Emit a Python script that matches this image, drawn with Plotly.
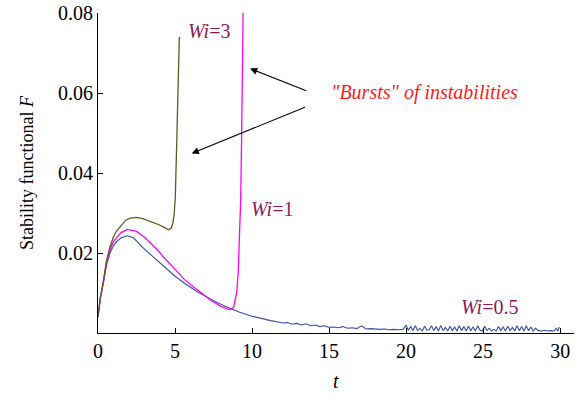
import plotly.graph_objects as go

# ---- data ----
t_blue_head = [0, 0.15, 0.35, 0.55, 0.78, 1.0, 1.2, 1.5, 1.9, 2.3, 2.95, 3.8, 4.4, 5.0, 5.7, 6.5, 7.3, 8.0, 8.57, 9.2, 10.0, 10.6, 11.2, 11.8]
F_blue_head = [0.004, 0.0085, 0.0125, 0.0170, 0.0200, 0.0218, 0.0228, 0.0238, 0.0243, 0.0238, 0.0212, 0.0183, 0.0162, 0.0142, 0.0122, 0.0102, 0.0085, 0.0071, 0.0062, 0.0052, 0.0042, 0.0036, 0.0031, 0.0027]

t_blue_tail = [12.0, 12.3, 12.6, 12.9, 13.2, 13.5, 13.8, 14.1, 14.4, 14.7, 15.0, 15.3, 15.6, 15.9, 16.2, 16.5, 16.8, 17.1, 17.4, 17.7,
               18.0, 18.3, 18.6, 18.9, 19.2, 19.5, 19.8, 20.0, 20.15, 20.3, 20.45, 20.6, 20.75, 20.9, 21.05, 21.2, 21.35, 21.5, 21.65, 21.8,
               21.95, 22.1, 22.25, 22.4, 22.55, 22.7, 22.85, 23.0, 23.15, 23.3, 23.45, 23.6, 23.75, 23.9, 24.05, 24.2, 24.35, 24.5, 24.65, 24.8,
               24.95, 25.1, 25.25, 25.4, 25.55, 25.7, 25.85, 26.0, 26.15, 26.3, 26.45, 26.6, 26.75, 26.9, 27.05, 27.2, 27.35, 27.5, 27.65, 27.8,
               27.95, 28.1, 28.25, 28.4, 28.6, 28.8, 29.0, 29.2, 29.4, 29.6, 29.75, 29.85, 29.95]
F_blue_tail = [0.0025, 0.0026, 0.0022, 0.0024, 0.0020, 0.0023, 0.0018, 0.0020, 0.0016, 0.0018, 0.0014, 0.0015, 0.0013, 0.0016, 0.0012, 0.0013, 0.0011, 0.0018, 0.0010, 0.0011,
               0.0010, 0.0009, 0.0010, 0.0008, 0.0009, 0.0008, 0.0009, 0.0019, 0.0007, 0.0016, 0.0006, 0.0018, 0.0006, 0.0012, 0.0005, 0.0017, 0.0007, 0.0008, 0.0018, 0.0006,
               0.0016, 0.0005, 0.0019, 0.0006, 0.0014, 0.0005, 0.0017, 0.0006, 0.0015, 0.0005, 0.0018, 0.0006, 0.0016, 0.0005, 0.0017, 0.0006, 0.0015, 0.0005, 0.0018, 0.0007,
               0.0005, 0.0017, 0.0006, 0.0012, 0.0005, 0.0009, 0.0005, 0.0016, 0.0006, 0.0015, 0.0005, 0.0017, 0.0006, 0.0014, 0.0005, 0.0018, 0.0006, 0.0016, 0.0005, 0.0018,
               0.0006, 0.0015, 0.0005, 0.0012, 0.0006, 0.0005, 0.0007, 0.0005, 0.0006, 0.0005, 0.0012, 0.0005, 0.0015]

t_wi1 = [0, 0.15, 0.35, 0.55, 0.78, 1.0, 1.2, 1.5, 1.9, 2.5, 3.0, 3.8, 4.4, 5.0, 5.6, 6.2, 6.8, 7.4, 8.0, 8.57, 8.8, 9.0, 9.1, 9.18, 9.26, 9.32, 9.37, 9.42]
F_wi1 = [0.004, 0.0087, 0.0128, 0.0175, 0.0208, 0.0228, 0.0238, 0.0251, 0.0259, 0.0254, 0.0240, 0.0210, 0.0184, 0.0158, 0.0134, 0.0115, 0.0098, 0.0080, 0.0066, 0.0058, 0.0064, 0.0100, 0.0150, 0.0230, 0.0330, 0.0480, 0.0620, 0.0800]

t_wi3 = [0, 0.15, 0.35, 0.55, 0.78, 1.0, 1.2, 1.5, 1.8, 2.1, 2.5, 2.9, 3.2, 3.6, 4.0, 4.3, 4.57, 4.75, 4.87, 4.95, 5.02, 5.1, 5.17, 5.22, 5.28]
F_wi3 = [0.004, 0.0088, 0.0130, 0.0180, 0.0215, 0.0240, 0.0255, 0.0270, 0.0282, 0.0287, 0.0289, 0.0286, 0.0282, 0.0276, 0.0270, 0.0264, 0.0258, 0.0262, 0.0276, 0.0300, 0.0340, 0.0460, 0.0580, 0.0660, 0.0740]

x_ticks = [0, 5, 10, 15, 20, 25, 30]
y_ticks = [0.02, 0.04, 0.06, 0.08]
y_tick_text = ["0.02", "0.04", "0.06", "0.08"]

SERIF = "Liberation Serif, serif"
LABEL_COLOR = "#8e1a55"
TICK_SIZE = 20
ANN_SIZE = 20

fig = go.Figure()
fig.add_trace(go.Scatter(x=t_blue_head + t_blue_tail, y=F_blue_head + F_blue_tail, mode="lines",
                         line=dict(color="#3650a6", width=1.1), showlegend=False))
fig.add_trace(go.Scatter(x=t_wi1, y=F_wi1, mode="lines",
                         line=dict(color="#ff00ff", width=1.3), showlegend=False))
fig.add_trace(go.Scatter(x=t_wi3, y=F_wi3, mode="lines",
                         line=dict(color="#5c5c20", width=1.3), showlegend=False))

annotations = [
    dict(x=7.18, y=0.0756, text="<i>Wi</i>=3", showarrow=False,
         font=dict(family=SERIF, size=ANN_SIZE, color=LABEL_COLOR)),
    dict(x=11.27, y=0.0309, text="<i>Wi</i>=1", showarrow=False,
         font=dict(family=SERIF, size=ANN_SIZE, color=LABEL_COLOR)),
    dict(x=25.42, y=0.0066, text="<i>Wi</i>=0.5", showarrow=False,
         font=dict(family=SERIF, size=ANN_SIZE, color=LABEL_COLOR)),
    dict(x=21.2, y=0.0601, text="<i>\"Bursts\" of instabilities</i>", showarrow=False,
         font=dict(family=SERIF, size=ANN_SIZE, color="#ff1a1a")),
    dict(x=9.87, y=0.0661, ax=13.62, ay=0.0604, axref="x", ayref="y", xref="x", yref="y",
         text="", showarrow=True, arrowhead=2, arrowsize=1.3, arrowwidth=1.1, arrowcolor="black"),
    dict(x=6.08, y=0.0449, ax=13.53, ay=0.0566, axref="x", ayref="y", xref="x", yref="y",
         text="", showarrow=True, arrowhead=2, arrowsize=1.3, arrowwidth=1.1, arrowcolor="black"),
    dict(x=0.5, y=0, xref="paper", yref="paper", xanchor="center", yanchor="middle",
         yshift=-48, text="<i>t</i>", showarrow=False, font=dict(family=SERIF, size=ANN_SIZE)),
    dict(x=0, y=0.5, xref="paper", yref="paper", xanchor="center", yanchor="middle",
         xshift=-71, text="Stability functional <i>F</i>", textangle=-90, showarrow=False,
         font=dict(family=SERIF, size=18)),
]

fig.update_layout(
    width=577, height=398,
    margin=dict(l=98, r=3, t=13, b=65, autoexpand=False),
    paper_bgcolor="white", plot_bgcolor="white",
    font=dict(family=SERIF, size=TICK_SIZE, color="black"),
    annotations=annotations,
    hovermode=False,
    xaxis=dict(range=[0, 30.9], tickvals=x_ticks, ticks="inside", ticklen=5, tickcolor="black",
               showline=True, linecolor="black", linewidth=1.2, showgrid=False, zeroline=False,
               tickfont=dict(family=SERIF, size=TICK_SIZE), automargin=False, ticklabeloverflow="allow"),
    yaxis=dict(range=[0, 0.08], tickvals=y_ticks, ticktext=y_tick_text, ticks="inside", ticklen=5,
               tickcolor="black", showline=True, linecolor="black", linewidth=1.2, showgrid=False,
               zeroline=False, tickfont=dict(family=SERIF, size=TICK_SIZE), automargin=False,
               ticklabeloverflow="allow"),
)

# remove the default 8px page margin so the figure sits at the window origin
fig.write_html("out.html", config={"displayModeBar": False},
               post_script="document.body.style.margin='0';")
